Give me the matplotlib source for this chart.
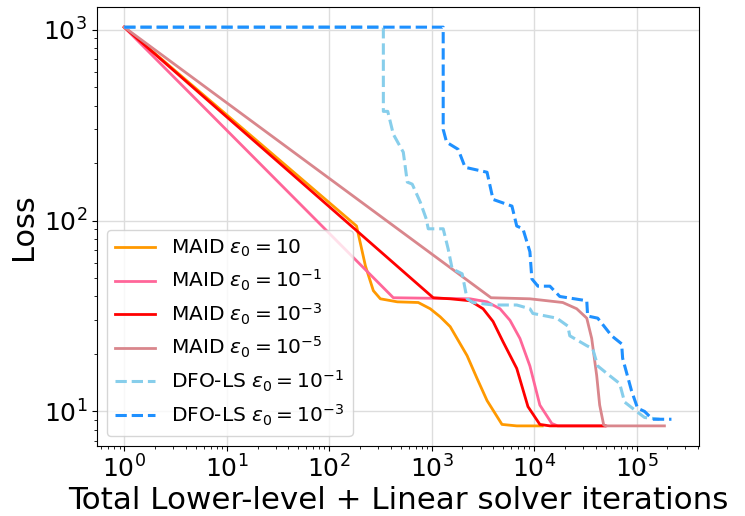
import numpy as np
import matplotlib
matplotlib.use("Agg")
import matplotlib.pyplot as plt

# MAID runs (total iterations, loss)
maid10_x = [1, 185, 226, 270, 316, 463, 741, 969, 1213, 1518, 2218, 2773, 3474, 4860, 6770, 12000]
maid10_y = [1030, 93.6, 57.8, 42.9, 38.9, 37.5, 37.2, 34.5, 31.3, 27.8, 19.6, 14.9, 11.4, 8.55, 8.4, 8.4]

maid1_x = [1, 423, 2373, 3474, 4650, 5820, 7280, 9100, 11380, 14880, 17000, 50000]
maid1_y = [1030, 39.4, 38.9, 37.5, 34.5, 30.0, 24.1, 17.3, 10.8, 8.65, 8.4, 8.4]

maid3_x = [1, 1037, 1518, 2373, 3177, 3975, 4970, 6770, 8710, 11380, 14260, 49000]
maid3_y = [1030, 39.4, 38.9, 38.0, 34.5, 29.6, 23.2, 16.8, 10.6, 8.55, 8.4, 8.4]

maid5_x = [1, 3800, 9100, 19050, 26060, 32660, 36500, 40830, 43650, 47760, 50000, 187000]
maid5_y = [1030, 39.4, 38.9, 37.2, 34.5, 30.8, 24.1, 15.4, 10.8, 8.5, 8.4, 8.4]

# DFO-LS runs
dfo1_x = [1, 338, 338, 373, 423, 529, 579, 647, 774, 886, 927, 1297, 1450, 1585, 1986,
          2218, 2541, 3975, 6770, 9100, 9730, 16670, 21330, 22300, 32660, 37330, 41780,
          54600, 68400, 76400, 100000, 119700, 167500]
dfo1_y = [1030, 1030, 373, 373, 283, 228, 159, 155, 125, 102, 90.5, 90.5, 71.0, 55.9, 52.6,
          38.9, 37.2, 36.1, 36.1, 34.5, 32.6, 30.8, 28.0, 24.9, 22.1, 21.3, 17.3,
          15.4, 14.0, 11.2, 10.0, 9.3, 9.1]

dfo3_x = [1, 1297, 1297, 1400, 1815, 2122, 3474, 3975, 6080, 6770, 7780, 9100, 9510, 10900,
          14260, 17830, 32660, 33300, 41780, 57100, 71500, 73100, 89400, 102300, 119700,
          143100, 219000]
dfo3_y = [1030, 1030, 300, 257, 236, 190, 179, 129, 119, 93.6, 90.5, 68.6, 49.5, 45.3,
          45.3, 40.0, 38.0, 31.6, 30.8, 24.9, 22.6, 19.0, 12.8, 10.4, 10.0,
          9.1, 9.1]

fig = plt.figure(figsize=(7.45, 5.16), dpi=100)
ax = fig.add_axes([0.130, 0.136, 0.808, 0.850])

ax.plot(maid10_x, maid10_y, color="#FF9900", lw=2, label=r"MAID $\varepsilon_0 = 10$")
ax.plot(maid1_x, maid1_y, color="#FF6699", lw=2, label=r"MAID $\varepsilon_0 = 10^{-1}$")
ax.plot(maid3_x, maid3_y, color="#FF0000", lw=2, label=r"MAID $\varepsilon_0 = 10^{-3}$")
ax.plot(maid5_x, maid5_y, color="#D9868C", lw=2, label=r"MAID $\varepsilon_0 = 10^{-5}$")
ax.plot(dfo1_x, dfo1_y, color="#87CEEB", lw=2.2, ls="--", label=r"DFO-LS $\varepsilon_0 = 10^{-1}$")
ax.plot(dfo3_x, dfo3_y, color="#1E90FF", lw=2.2, ls="--", label=r"DFO-LS $\varepsilon_0 = 10^{-3}$")

ax.set_xscale("log")
ax.set_yscale("log")
ax.grid(True, which="major", color="#dddddd", lw=1)
ax.set_xlabel("Total Lower-level + Linear solver iterations", fontsize=22.3, labelpad=2)
ax.set_ylabel("Loss", fontsize=22)
ax.tick_params(axis="both", which="major", labelsize=18)
ax.legend(loc="lower left", fontsize=14.5, labelspacing=0.42)

fig.savefig("out.png", dpi=100)
